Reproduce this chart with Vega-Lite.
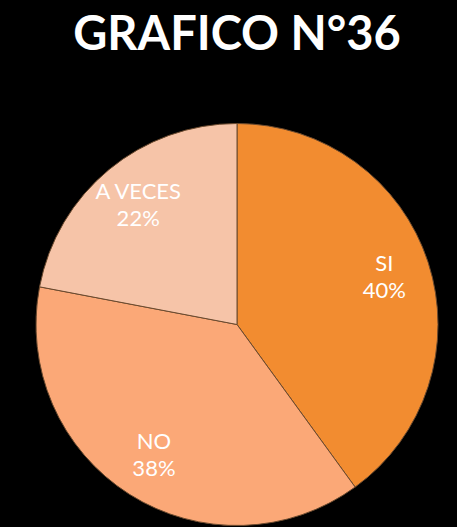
{
  "$schema": "https://vega.github.io/schema/vega-lite/v6.json",
  "autosize": {"type": "fit", "contains": "padding"},
  "width": 457,
  "height": 527,
  "padding": {"left": 17, "right": 0, "top": 12, "bottom": 0},
  "background": "#000000",
  "config": {"view": {"stroke": null}},
  "title": {
    "text": "GRAFICO N°36",
    "color": "#ffffff",
    "font": "Lato",
    "fontWeight": "bold",
    "fontSize": 47,
    "anchor": "middle",
    "frame": "group",
    "offset": 62
  },
  "data": {
    "values": [
      {"respuesta": "SI", "porcentaje": 40, "pct": "40%", "orden": 1},
      {"respuesta": "NO", "porcentaje": 38, "pct": "38%", "orden": 2},
      {"respuesta": "A VECES", "porcentaje": 22, "pct": "22%", "orden": 3}
    ]
  },
  "encoding": {
    "theta": {"field": "porcentaje", "type": "quantitative", "stack": true},
    "order": {"field": "orden", "type": "quantitative"}
  },
  "layer": [
    {
      "mark": {"type": "arc", "outerRadius": 201, "stroke": "#6b4a2e", "strokeWidth": 1},
      "encoding": {
        "color": {
          "field": "respuesta",
          "type": "nominal",
          "scale": {"domain": ["SI", "NO", "A VECES"], "range": ["#F28C30", "#FBA877", "#F6C4A8"]},
          "legend": null
        }
      }
    },
    {
      "mark": {"type": "text", "radius": 155, "dy": -13, "color": "#ffffff", "font": "Lato", "fontSize": 22},
      "encoding": {"text": {"field": "respuesta", "type": "nominal"}}
    },
    {
      "mark": {"type": "text", "radius": 155, "dy": 14, "color": "#ffffff", "font": "Lato", "fontSize": 22},
      "encoding": {"text": {"field": "pct", "type": "nominal"}}
    }
  ]
}
